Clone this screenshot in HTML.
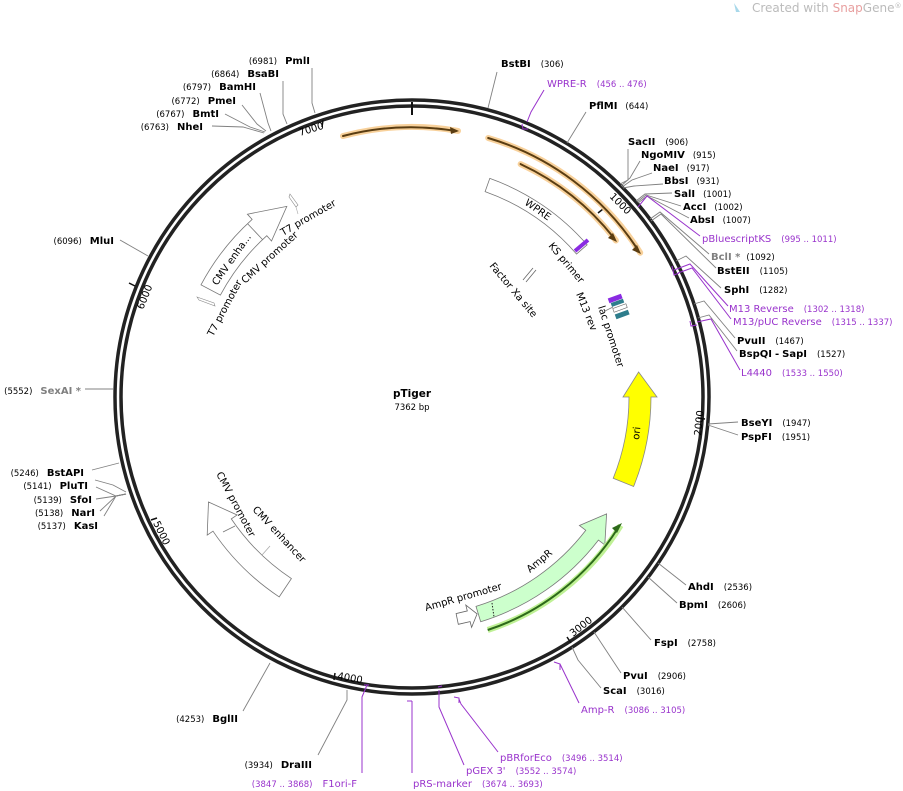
<!DOCTYPE html>
<html><head><meta charset="utf-8"><style>
html,body{margin:0;padding:0;background:#fff;}
svg{display:block;font-family:"DejaVu Sans","Liberation Sans",sans-serif;}
.n{font-weight:bold;font-size:10px;fill:#000;}
.p{font-size:8.5px;fill:#000;}
.g{font-weight:bold;font-size:10px;fill:#808080;}
.pu{font-size:10px;fill:#9933cc;}
.pp{font-size:8.5px;fill:#9933cc;}
.f{font-size:10px;fill:#000;}
.l{stroke:#808080;stroke-width:0.9;fill:none;}
.lp{stroke:#9933cc;stroke-width:1;fill:none;}
.t{font-size:10px;fill:#000;}
</style></head><body>
<svg width="903" height="791" viewBox="0 0 903 791" xmlns="http://www.w3.org/2000/svg">
<rect width="903" height="791" fill="#fff"/>
<path d="M734 3 L740 12 L736 12 Z" fill="#a8d8ea"/>
<text x="752" y="12" font-size="12" fill="#bbb">Created with <tspan fill="#e8a0a0">Snap</tspan>Gene<tspan font-size="7" dy="-4">®</tspan></text>

<circle cx="412" cy="397" r="297" fill="none" stroke="#222" stroke-width="3.5"/>
<circle cx="412" cy="397" r="291" fill="none" stroke="#222" stroke-width="3.5"/>
<line x1="412" y1="102" x2="412" y2="115" stroke="#111" stroke-width="2"/>
<g stroke="#111" stroke-width="1.5">
<line x1="323" y1="120" x2="322" y2="127"/>
<line x1="603" y1="209" x2="598" y2="213"/>
<line x1="705" y1="419" x2="698" y2="418"/>
<line x1="571" y1="643" x2="567" y2="637"/>
<line x1="334" y1="680" x2="335" y2="673"/>
<line x1="151" y1="520" x2="157" y2="518"/>
<line x1="129" y1="283" x2="135" y2="286"/>
</g>
<text class="t" transform="translate(300,136) rotate(-17)">7000</text>
<text class="t" transform="translate(609,197) rotate(45)">1000</text>
<text class="t" transform="translate(701,436) rotate(-84)">2000</text>
<text class="t" transform="translate(573,637) rotate(-38)">3000</text>
<text class="t" transform="translate(337,679) rotate(10)">4000</text>
<text class="t" transform="translate(153,523) rotate(64)">5000</text>
<text class="t" transform="translate(143,310) rotate(-68)">6000</text>

<text x="412" y="397" text-anchor="middle" font-weight="bold" font-size="10.5">pTiger</text>
<text x="412" y="410" text-anchor="middle" font-size="8.5">7362 bp</text>

<g fill="none" stroke-linecap="round">
<path d="M343 136 A270 270 0 0 1 458 130.9" stroke="#f7c98a" stroke-width="6" opacity="0.85"/>
<path d="M343 136 A270 270 0 0 1 456 131" stroke="#5a3d12" stroke-width="2"/>
<path d="M488.2 138 A270 270 0 0 1 640.2 252.7" stroke="#f7c98a" stroke-width="6" opacity="0.85"/>
<path d="M488.2 138 A270 270 0 0 1 638 250" stroke="#5a3d12" stroke-width="2"/>
<path d="M520.6 164.1 A257 257 0 0 1 615.9 240.5" stroke="#f7c98a" stroke-width="6" opacity="0.85"/>
<path d="M520.6 164.1 A257 257 0 0 1 614 238" stroke="#5a3d12" stroke-width="2"/>
</g>
<path d="M459 131 L450 127 L451 134 Z" fill="#5a3d12"/>
<path d="M641 254 L637 245 L632 250 Z" fill="#5a3d12"/>
<path d="M617 242 L613 233 L608 238 Z" fill="#5a3d12"/>

<path d="M489.8 178.4 A232 232 0 0 1 587.1 244.8 L576.5 254 A218 218 0 0 0 485.1 191.6 Z" fill="#fff" stroke="#777" stroke-width="0.8"/>
<text class="f" transform="translate(524,204) rotate(35)">WPRE</text>
<path d="M575 251 L588 240" stroke="#8a2be2" stroke-width="4"/>
<text class="f" transform="translate(548,246) rotate(50)">KS primer</text>
<line x1="523" y1="280" x2="533" y2="268" stroke="#666" stroke-width="0.8"/>
<line x1="526" y1="282" x2="536" y2="270" stroke="#666" stroke-width="0.8"/>
<text class="f" transform="translate(489,266) rotate(50)">Factor Xa site</text>
<rect x="608" y="296" width="14" height="5" fill="#8a2be2" transform="rotate(-20 615 298)"/>
<rect x="611" y="301" width="13" height="4" fill="#2e7d8c" transform="rotate(-20 617 303)"/>
<rect x="613" y="306" width="14" height="4" fill="#fff" stroke="#666" stroke-width="0.6" transform="rotate(-20 620 308)"/>
<rect x="615" y="312" width="14" height="5" fill="#2e7d8c" transform="rotate(-20 622 314)"/>
<line x1="605" y1="311" x2="613" y2="307" stroke="#777" stroke-width="0.7"/>
<text class="f" transform="translate(576,294) rotate(68)">M13 rev</text>
<text class="f" transform="translate(598,307) rotate(72)">lac promoter</text>

<path d="M633.6 486.5 A239 239 0 0 0 651 397 L657 397 L638.6 372 L623 397 L629 397 A217 217 0 0 1 613.2 478.3 Z" fill="#ffff00" stroke="#888" stroke-width="0.8"/>
<text class="f" transform="translate(639,440) rotate(-84)">ori</text>

<path d="M480.7 621.7 A235 235 0 0 0 598.4 540.1 L604.8 544.9 L606.6 513.9 L579.4 525.5 L585.8 530.3 A219 219 0 0 1 476 606.4 Z" fill="#ccffcc" stroke="#777" stroke-width="0.8"/>
<line x1="492" y1="603" x2="494" y2="617" stroke="#222" stroke-width="1" stroke-dasharray="1.5,1.5"/>
<text class="f" transform="translate(530,573) rotate(-40)">AmpR</text>
<path d="M487.7 630 A245 245 0 0 0 620.7 525.4" fill="none" stroke="#b8f08a" stroke-width="6" opacity="0.9"/>
<path d="M487.7 630 A245 245 0 0 0 618 528" fill="none" stroke="#2d6a1a" stroke-width="2"/>
<path d="M622 523 L612 528 L617 533 Z" fill="#2d6a1a"/>
<path d="M458.3 624.3 L470.1 621.6 L471.6 627.4 L477.1 613.9 L465.8 605.1 L467.3 610.9 L456.1 613.6 Z" fill="#fff" stroke="#666" stroke-width="0.8"/>
<text class="f" transform="translate(426,611) rotate(-16)">AmpR promoter</text>

<path d="M279.2 596.9 A240 240 0 0 1 213 531.2 L207.2 535.1 L208.5 502 L237.1 515 L231.3 518.9 A218 218 0 0 0 291.4 578.6 Z" fill="#fff" stroke="#777" stroke-width="0.8"/>
<line x1="223" y1="532" x2="235" y2="526" stroke="#777" stroke-width="0.8"/>
<line x1="262" y1="555" x2="270" y2="546" stroke="#aaa" stroke-width="0.8"/>
<text class="f" transform="translate(216,474) rotate(62)">CMV promoter</text>
<text class="f" transform="translate(252,510) rotate(47)">CMV enhancer</text>

<path d="M201 284.8 A239 239 0 0 1 252.1 219.4 L247.4 214.2 L286.8 206.4 L271.5 241 L266.8 235.7 A217 217 0 0 0 220.4 295.1 Z" fill="#fff" stroke="#777" stroke-width="0.8"/>
<line x1="247.5" y1="223.6" x2="262.6" y2="239.6" stroke="#777" stroke-width="0.8"/>
<text class="f" transform="translate(217,286) rotate(-55)">CMV enha...</text>
<text class="f" transform="translate(245,284) rotate(-42)">CMV promoter</text>
<text class="f" transform="translate(283,236) rotate(-30)">T7 promoter</text>
<text class="f" transform="translate(213,337) rotate(-62)">T7 promoter</text>
<path d="M197 297 L214 303 L215 306 L199 300 Z" fill="#fff" stroke="#888" stroke-width="0.6"/>
<path d="M290 194 L298 205 L296 207 L289 197 Z" fill="#fff" stroke="#888" stroke-width="0.6"/>
<line x1="296" y1="207" x2="298" y2="214" stroke="#aaa" stroke-width="0.6"/>

<polyline class="l" points="488,108 497,72"/>
<text x="501" y="67"><tspan class="n">BstBI</tspan><tspan class="p" dx="10">(306)</tspan></text>
<polyline class="lp" points="527,122 531,112 544,90"/>
<path d="M522 124 L523 129 L528 129" class="lp"/>
<text x="547" y="87"><tspan class="pu">WPRE-R</tspan><tspan class="pp" dx="10">(456 .. 476)</tspan></text>
<polyline class="l" points="567,143 586,112"/>
<text x="589" y="109"><tspan class="n">PflMI</tspan><tspan class="p" dx="8">(644)</tspan></text>
<polyline class="l" points="620,184 628,180 628,149"/>
<text x="628" y="145"><tspan class="n">SacII</tspan><tspan class="p" dx="10">(906)</tspan></text>
<polyline class="l" points="621,186 630,178 640,161"/>
<text x="641" y="158"><tspan class="n">NgoMIV</tspan><tspan class="p" dx="8">(915)</tspan></text>
<polyline class="l" points="622,187 632,180 652,173"/>
<text x="653" y="171"><tspan class="n">NaeI</tspan><tspan class="p" dx="8">(917)</tspan></text>
<polyline class="l" points="623,188 634,186 663,184"/>
<text x="664" y="184"><tspan class="n">BbsI</tspan><tspan class="p" dx="8">(931)</tspan></text>
<polyline class="l" points="636,201 645,194 672,193"/>
<text x="674" y="197"><tspan class="n">SalI</tspan><tspan class="p" dx="8">(1001)</tspan></text>
<polyline class="l" points="637,202 646,195 681,206"/>
<text x="683" y="210"><tspan class="n">AccI</tspan><tspan class="p" dx="8">(1002)</tspan></text>
<polyline class="l" points="638,203 647,196 689,218"/>
<text x="690" y="223"><tspan class="n">AbsI</tspan><tspan class="p" dx="8">(1007)</tspan></text>
<polyline class="lp" points="638,207 647,196 700,236"/>
<text x="702" y="242"><tspan class="pu">pBluescriptKS</tspan><tspan class="pp" dx="10">(995 .. 1011)</tspan></text>
<polyline class="l" points="650,219 660,212 709,254"/>
<text x="711" y="260"><tspan class="g">BclI *</tspan><tspan class="p" dx="6">(1092)</tspan></text>
<polyline class="l" points="651,221 661,214 716,268"/>
<text x="717" y="274"><tspan class="n">BstEII</tspan><tspan class="p" dx="10">(1105)</tspan></text>
<polyline class="l" points="676,261 686,256 721,288"/>
<text x="724" y="293"><tspan class="n">SphI</tspan><tspan class="p" dx="10">(1282)</tspan></text>
<polyline class="lp" points="674,270 690,264 728,306"/>
<path d="M672 266 L674 275 L679 273" class="lp"/>
<text x="729" y="312"><tspan class="pu">M13 Reverse</tspan><tspan class="pp" dx="10">(1302 .. 1318)</tspan></text>
<polyline class="lp" points="678,273 692,268 731,319"/>
<text x="733" y="325"><tspan class="pu">M13/pUC Reverse</tspan><tspan class="pp" dx="10">(1315 .. 1337)</tspan></text>
<polyline class="l" points="694,304 704,301 735,338"/>
<text x="737" y="344"><tspan class="n">PvuII</tspan><tspan class="p" dx="10">(1467)</tspan></text>
<polyline class="l" points="698,318 709,315 737,351"/>
<text x="739" y="357"><tspan class="n">BspQI</tspan><tspan class="n" dx="3" font-weight="normal">-</tspan><tspan class="n" dx="3">SapI</tspan><tspan class="p" dx="10">(1527)</tspan></text>
<polyline class="lp" points="697,322 711,319 740,370"/>
<path d="M690 321 L691 326 L697 325" class="lp"/>
<text x="741" y="376"><tspan class="pu">L4440</tspan><tspan class="pp" dx="10">(1533 .. 1550)</tspan></text>
<polyline class="l" points="708,424 738,422"/>
<text x="741" y="426"><tspan class="n">BseYI</tspan><tspan class="p" dx="10">(1947)</tspan></text>
<polyline class="l" points="708,425 738,435"/>
<text x="741" y="440"><tspan class="n">PspFI</tspan><tspan class="p" dx="10">(1951)</tspan></text>
<polyline class="l" points="658,563 686,585"/>
<text x="688" y="590"><tspan class="n">AhdI</tspan><tspan class="p" dx="10">(2536)</tspan></text>
<polyline class="l" points="648,577 677,603"/>
<text x="679" y="608"><tspan class="n">BpmI</tspan><tspan class="p" dx="10">(2606)</tspan></text>
<polyline class="l" points="622,607 651,640"/>
<text x="654" y="646"><tspan class="n">FspI</tspan><tspan class="p" dx="10">(2758)</tspan></text>
<polyline class="l" points="594,632 621,673"/>
<text x="623" y="679"><tspan class="n">PvuI</tspan><tspan class="p" dx="10">(2906)</tspan></text>
<polyline class="l" points="572,647 578,660 601,688"/>
<text x="603" y="694"><tspan class="n">ScaI</tspan><tspan class="p" dx="10">(3016)</tspan></text>
<polyline class="lp" points="560,664 579,703"/>
<path d="M554 662 L560 664 L560 670" class="lp"/>
<text x="581" y="713"><tspan class="pu">Amp-R</tspan><tspan class="pp" dx="10">(3086 .. 3105)</tspan></text>
<polyline class="lp" points="459,699 461,704 498,752"/>
<path d="M454 697 L459 698 L459 703" class="lp"/>
<text x="500" y="761"><tspan class="pu">pBRforEco</tspan><tspan class="pp" dx="10">(3496 .. 3514)</tspan></text>
<polyline class="lp" points="439,690 439,707 464,765"/>
<path d="M438 687 L442 686" class="lp"/>
<text x="466" y="774"><tspan class="pu">pGEX 3'</tspan><tspan class="pp" dx="10">(3552 .. 3574)</tspan></text>
<polyline class="lp" points="412,701 412,773"/>
<path d="M407 701 L412 701" class="lp"/>
<text x="413" y="787"><tspan class="pu">pRS-marker</tspan><tspan class="pp" dx="10">(3674 .. 3693)</tspan></text>
<polyline class="lp" points="367,685 362,697 362,773"/>
<path d="M364 685 L369 685" class="lp"/>
<text x="357" y="787" text-anchor="end"><tspan class="pp">(3847 .. 3868)</tspan><tspan class="pu" dx="10">F1ori-F</tspan></text>
<polyline class="l" points="347,690 347,700 318,755"/>
<text x="312" y="768" text-anchor="end"><tspan class="p">(3934)</tspan><tspan class="n" dx="8">DraIII</tspan></text>
<polyline class="l" points="270,663 243,711"/>
<text x="238" y="722" text-anchor="end"><tspan class="p">(4253)</tspan><tspan class="n" dx="8">BglII</tspan></text>

<polyline class="l" points="126,492 113,485 95,480"/>
<text x="84" y="476" text-anchor="end"><tspan class="p">(5246)</tspan><tspan class="n" dx="8">BstAPI</tspan></text>
<polyline class="l" points="119,463 92,470"/>
<text x="88" y="489" text-anchor="end"><tspan class="p">(5141)</tspan><tspan class="n" dx="8">PluTI</tspan></text>
<polyline class="l" points="126,494 116,496 96,487"/>
<polyline class="l" points="126,494 116,496 96,499"/>
<text x="92" y="503" text-anchor="end"><tspan class="p">(5139)</tspan><tspan class="n" dx="8">SfoI</tspan></text>
<polyline class="l" points="126,494 116,496 100,511"/>
<text x="95" y="516" text-anchor="end"><tspan class="p">(5138)</tspan><tspan class="n" dx="8">NarI</tspan></text>
<polyline class="l" points="126,494 116,496 104,516"/>
<text x="98" y="529" text-anchor="end"><tspan class="p">(5137)</tspan><tspan class="n" dx="8">KasI</tspan></text>
<polyline class="l" points="113,389 85,389"/>
<text x="81" y="394" text-anchor="end"><tspan class="p">(5552)</tspan><tspan class="g" dx="8">SexAI *</tspan></text>
<polyline class="l" points="148,256 120,240"/>
<text x="114" y="244" text-anchor="end"><tspan class="p">(6096)</tspan><tspan class="n" dx="8">MluI</tspan></text>
<polyline class="l" points="264,133 243,127 212,126"/>
<text x="203" y="130" text-anchor="end"><tspan class="p">(6763)</tspan><tspan class="n" dx="8">NheI</tspan></text>
<polyline class="l" points="265,132 250,127 225,114"/>
<text x="219" y="117" text-anchor="end"><tspan class="p">(6767)</tspan><tspan class="n" dx="8">BmtI</tspan></text>
<polyline class="l" points="266,131 257,124 242,105"/>
<text x="236" y="104" text-anchor="end"><tspan class="p">(6772)</tspan><tspan class="n" dx="8">PmeI</tspan></text>
<polyline class="l" points="271,131 268,123 260,93"/>
<text x="256" y="90" text-anchor="end"><tspan class="p">(6797)</tspan><tspan class="n" dx="8">BamHI</tspan></text>
<polyline class="l" points="287,124 283,114 283,81"/>
<text x="279" y="77" text-anchor="end"><tspan class="p">(6864)</tspan><tspan class="n" dx="8">BsaBI</tspan></text>
<polyline class="l" points="315,113 312,103 312,68"/>
<text x="310" y="64" text-anchor="end"><tspan class="p">(6981)</tspan><tspan class="n" dx="8">PmlI</tspan></text>
</svg>
</body></html>
